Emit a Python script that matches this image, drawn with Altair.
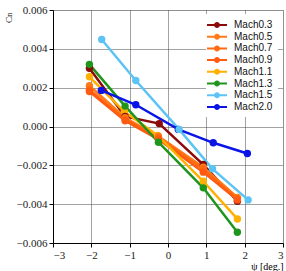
import altair as alt
import pandas as pd

series = ["Mach0.3", "Mach0.5", "Mach0.7", "Mach0.9", "Mach1.1", "Mach1.3", "Mach1.5", "Mach2.0"]
colors = ["#8b0a0a", "#ff7a1a", "#ff6a10", "#ff5a10", "#ffb000", "#1e961e", "#5cc4f5", "#0a14e6"]

psi = {
    "Mach0.3": [-2.05, -1.12, -0.23, 0.92, 1.81],
    "Mach0.5": [-2.05, -1.12, -0.25, 0.92, 1.81],
    "Mach0.7": [-2.05, -1.12, -0.25, 0.92, 1.81],
    "Mach0.9": [-2.05, -1.12, -0.25, 0.92, 1.81],
    "Mach1.1": [-2.05, -1.14, -0.27, 0.92, 1.81],
    "Mach1.3": [-2.05, -1.12, -0.25, 0.92, 1.81],
    "Mach1.5": [-1.73, -0.84, 0.29, 1.16, 2.09],
    "Mach2.0": [-1.74, -0.84, 0.27, 1.18, 2.07],
}
cn = {
    "Mach0.3": [0.0030, 0.00052, 0.00015, -0.00196, -0.00385],
    "Mach0.5": [0.0021, 0.00045, -0.00050, -0.00210, -0.00365],
    "Mach0.7": [0.0019, 0.00038, -0.00058, -0.00220, -0.00372],
    "Mach0.9": [0.0018, 0.00030, -0.00066, -0.00235, -0.00378],
    "Mach1.1": [0.00256, 0.00077, -0.00046, -0.00282, -0.00476],
    "Mach1.3": [0.0032, 0.00105, -0.00081, -0.00316, -0.00545],
    "Mach1.5": [0.00448, 0.00237, -0.00015, -0.00218, -0.00378],
    "Mach2.0": [0.00186, 0.00112, -0.00015, -0.00084, -0.00139],
}

rows = []
for s in series:
    for x, y in zip(psi[s], cn[s]):
        rows.append({"series": s, "psi": x, "cn": y})
df = pd.DataFrame(rows)

# line segment with a dot, as a filled custom legend symbol
legend_symbol = ("M-1.67,-0.17 L1.67,-0.17 L1.67,0.17 L-1.67,0.17 Z "
                 "M0,-0.5 A0.5,0.5 0 1,1 0,0.5 A0.5,0.5 0 1,1 0,-0.5 Z")

color_scale = alt.Scale(domain=series, range=colors)

legend = alt.Legend(title=None, orient="none", legendX=153, legendY=4,
                    symbolType=legend_symbol, symbolSize=144,
                    symbolStrokeWidth=0, symbolOpacity=1,
                    labelFontSize=10, labelOffset=11,
                    labelFont="Liberation Sans", rowPadding=0.7,
                    labelLimit=80, labelColor="#111",
                    fillColor="white", padding=5, offset=0)

xax = alt.Axis(values=[-3, -2, -1, 0, 1, 2, 3], title="ψ [deg.]", titleAnchor="end",
               titleAlign="right", titleFontSize=10, titleFontWeight="normal",
               titlePadding=1, labelFontSize=11, labelPadding=2,
               grid=True, gridDash=[1, 1], gridColor="#444", gridWidth=1,
               domainColor="#000", tickColor="#000", tickSize=4, labelColor="#222",
               labelFont="Liberation Sans Narrow", titleFont="Liberation Sans Narrow")
yax = alt.Axis(values=[-0.006, -0.004, -0.002, 0, 0.002, 0.004, 0.006], format=".3f",
               title="Cn", titleAngle=-90, titleAnchor="end", titleAlign="right",
               titleBaseline="middle", titleFontSize=9, titleFontWeight="normal",
               titleX=-45, titleY=2, titleFont="Liberation Sans Narrow",
               labelFontSize=11, labelPadding=2,
               grid=True, gridDash=[1, 1], gridColor="#444", gridWidth=1,
               domainColor="#000", tickColor="#000", tickSize=4, labelColor="#222",
               labelFont="Liberation Sans Narrow")

base = alt.Chart(df).encode(
    x=alt.X("psi:Q", scale=alt.Scale(domain=[-3, 3], nice=False), axis=xax),
    y=alt.Y("cn:Q", scale=alt.Scale(domain=[-0.006, 0.006], nice=False), axis=yax),
    order=alt.Order("psi:Q"),
)

lines = base.mark_line(strokeWidth=2.5).encode(
    color=alt.Color("series:N", scale=color_scale, sort=series, legend=legend),
    detail="series:N",
)
points = base.mark_circle(size=55, opacity=1).encode(
    color=alt.Color("series:N", scale=color_scale, sort=series, legend=legend),
)

chart = alt.layer(lines, points).properties(
    width=230, height=233,
    autosize=alt.AutoSizeParams(type="none"),
    padding={"left": 53, "top": 10, "right": 3, "bottom": 28},
).configure_view(stroke="#000", strokeWidth=1).configure(font="Liberation Sans")

chart.save("out.html", embed_options={"renderer": "svg", "actions": False})
